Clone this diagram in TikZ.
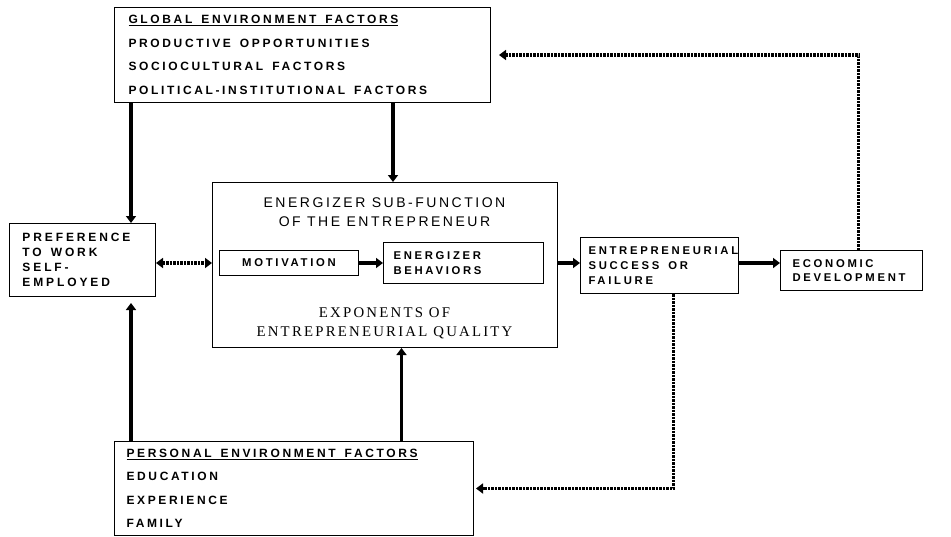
\documentclass[tikz,border=0pt]{standalone}
\usepackage{fontspec}
\usepackage{tikz}
\usetikzlibrary{arrows.meta}
\setmainfont{Liberation Serif}
\newfontfamily\boxfont[LetterSpace=22]{Liberation Sans}
\newfontfamily\smallfont[LetterSpace=24]{Liberation Sans}
\newfontfamily\titlefont[LetterSpace=18]{Liberation Sans}
\newfontfamily\qualfont[LetterSpace=15]{Liberation Serif}
\newcommand\wsp{\hspace{9pt}}

\begin{document}
\begin{tikzpicture}[x=1pt,y=-1pt,
  box/.style={draw,line width=1pt,anchor=north west,inner ysep=0pt,align=left},
  big/.style={font=\boxfont\bfseries\fontsize{12}{23.5}\selectfont},
  small/.style={font=\smallfont\bfseries\fontsize{11.3}{#1}\selectfont},
  arr/.style={line width=3.8pt,-{Triangle[length=7pt,width=10pt]}},
  dots/.style={line width=3.8pt,dash pattern=on 2.5pt off 1pt,-{Triangle[length=7pt,width=10pt]}}]
  \useasboundingbox (0,0) rectangle (951,536);
  \node (glob) at (114,7) [box,big,minimum width=376,minimum height=95,inner xsep=14,text width=348]
    {\underline{GLOBAL\wsp ENVIRONMENT\wsp FACTORS}\\PRODUCTIVE\wsp OPPORTUNITIES\\SOCIOCULTURAL\wsp FACTORS\\POLITICAL-INSTITUTIONAL\wsp FACTORS};
  \node (pref) at (9,223) [box,small=15,minimum width=146,minimum height=73,inner xsep=13,text width=120,
    font=\smallfont\bfseries\fontsize{12}{15}\selectfont]
    {PREFERENCE\\TO\wsp WORK\\SELF-\\EMPLOYED};
  \node (cen) at (212,182) [box,minimum width=345,minimum height=165] {};
  \node (title) at (384.5,212) [align=center,font=\titlefont\fontsize{14}{19}\selectfont]
    {ENERGIZER SUB-FUNCTION\\OF THE ENTREPRENEUR};
  \node (qual) at (384.5,323) [align=center,font=\qualfont\fontsize{14.8}{19}\selectfont]
    {EXPONENTS OF\\ENTREPRENEURIAL QUALITY};
  \node (mot) at (219,250) [box,small=15,minimum width=139,minimum height=25,inner xsep=0,text width=139,align=center]
    {MOTIVATION};
  \node (ener) at (383,242) [box,small=15,minimum width=160,minimum height=41,inner xsep=10,text width=140]
    {ENERGIZER\\BEHAVIORS};
  \node (entre) at (580,237) [box,small=15,minimum width=158,minimum height=56,inner xsep=8,text width=142]
    {ENTREPRENEURIAL\\SUCCESS\wsp OR\\FAILURE};
  \node (econ) at (780,250) [box,small=13.5,minimum width=142,minimum height=40,inner xsep=12,text width=118]
    {ECONOMIC\\DEVELOPMENT};
  \node (pers) at (114,441) [box,big,minimum width=359,minimum height=94,inner xsep=12,text width=335]
    {\underline{PERSONAL\wsp ENVIRONMENT\wsp FACTORS}\\EDUCATION\\EXPERIENCE\\FAMILY};
  \draw[arr] ([xshift=17pt]glob.south west) -- ([xshift=17pt]glob.south west |- pref.north);
  \draw[arr] ([xshift=8pt]cen.north |- glob.south) -- ([xshift=8pt]cen.north);
  \draw[arr] ([xshift=17pt]pers.north west) -- ([xshift=17pt,yshift=-6pt]pers.north west |- pref.south);
  \draw[arr] ([xshift=16.5pt]cen.south |- pers.north) -- ([xshift=16.5pt]cen.south);
  \draw[dots,{Triangle[length=7pt,width=10pt]}-{Triangle[length=7pt,width=10pt]}] (pref.east |- mot.west) -- (cen.west |- mot.west);
  \draw[arr] (mot.east) -- (mot.east -| ener.west);
  \draw[arr] (cen.east |- mot.east) -- (entre.west |- mot.east);
  \draw[arr] (entre.east |- mot.east) -- (econ.west |- mot.east);
  \draw[dots,shorten >=8pt] ([xshift=7pt]econ.north) |- (glob.east);
  \draw[dots,shorten >=2pt] ([xshift=14pt]entre.south) |- (pers.east);
\end{tikzpicture}
\end{document}
